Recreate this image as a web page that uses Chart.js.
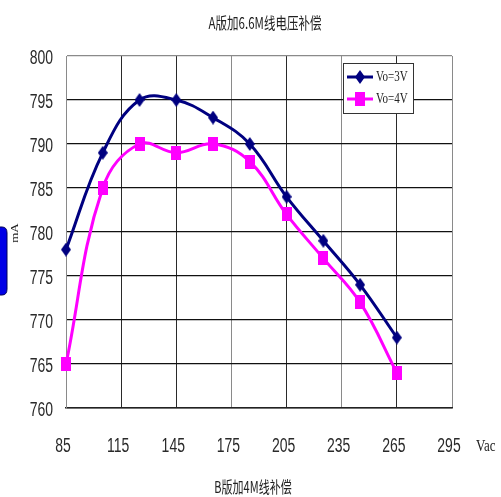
<!DOCTYPE html>
<html>
<head>
<meta charset="utf-8">
<script src="https://cdn.jsdelivr.net/npm/chart.js@4/dist/chart.umd.min.js"></script>
<style>
  html, body { margin: 0; padding: 0; background: #fff; }
  #wrap { width: 501px; height: 497px; position: relative; }
</style>
</head>
<body>
<div id="wrap"><canvas id="c" width="501" height="497"></canvas></div>
<script>
// Input voltage (Vac) sample points
const vac = [85, 105, 125, 145, 165, 185, 205, 225, 245, 265];
// Output current (mA) for each output voltage setting
const vo3V = [778, 789, 795, 795, 793, 790, 784, 779, 774, 768];
const vo4V = [765, 785, 790, 789, 790, 788, 782, 777, 772, 764];
const seriesNames = ['Vo=3V', 'Vo=4V'];
const titleText = 'A版加6.6M线电压补偿';
const bottomText = 'B版加4M线补偿';
const yUnit = 'mA';
const xUnit = 'Vac';

const NAVY = '#000080';
const MAGENTA = '#FF00FF';
const TICK_FONT = '14px "Liberation Sans", Arial, sans-serif';
const CJK_FONT = '"Noto Sans CJK SC", sans-serif';

// Tall markers: diamond and rectangle sprites
function diamondSprite(w, h, color) {
  const cv = document.createElement('canvas');
  cv.width = w; cv.height = h;
  const g = cv.getContext('2d');
  g.fillStyle = color;
  g.beginPath();
  g.moveTo(w / 2, 0); g.lineTo(w, h / 2); g.lineTo(w / 2, h); g.lineTo(0, h / 2);
  g.closePath(); g.fill();
  return cv;
}
function rectSprite(w, h, color) {
  const cv = document.createElement('canvas');
  cv.width = w; cv.height = h;
  const g = cv.getContext('2d');
  g.fillStyle = color;
  g.fillRect(0, 0, w, h);
  return cv;
}
const diamond = diamondSprite(10, 14, NAVY);
const square = rectSprite(10, 14, MAGENTA);

function stretchedText(ctx, text, x, y, font, sy, align) {
  ctx.save();
  ctx.translate(x, y);
  ctx.scale(1, sy);
  ctx.font = font;
  ctx.textAlign = align || 'center';
  ctx.textBaseline = 'middle';
  ctx.fillText(text, 0, 0);
  ctx.restore();
}

// Tick labels drawn from the scales' own ticks, in a tall narrow style
const tallTicks = {
  id: 'tallTicks',
  afterDraw(chart) {
    const ctx = chart.ctx;
    const xs = chart.scales.x, ys = chart.scales.y;
    ctx.save();
    ctx.fillStyle = '#2a2a2a';
    ys.ticks.forEach(t => {
      stretchedText(ctx, String(t.value), 53, ys.getPixelForValue(t.value) + 3, TICK_FONT, 1.4, 'right');
    });
    xs.ticks.forEach(t => {
      stretchedText(ctx, String(t.value), xs.getPixelForValue(t.value) - 3, 447, TICK_FONT, 1.4, 'center');
    });
    ctx.restore();
  }
};

const decorations = {
  id: 'decorations',
  beforeDraw(chart) {
    const ctx = chart.ctx;
    ctx.save();
    ctx.fillStyle = '#fff';
    ctx.fillRect(0, 0, chart.width, chart.height);
    // blue tab on the left edge
    ctx.fillStyle = '#0000E6';
    ctx.strokeStyle = '#00005a';
    ctx.lineWidth = 1;
    ctx.beginPath();
    ctx.moveTo(-2, 227);
    ctx.lineTo(2, 227);
    ctx.quadraticCurveTo(7, 227, 7, 233);
    ctx.lineTo(7, 289);
    ctx.quadraticCurveTo(7, 295, 2, 295);
    ctx.lineTo(-2, 295);
    ctx.closePath();
    ctx.fill();
    ctx.stroke();
    ctx.restore();
  },
  afterDraw(chart) {
    const ctx = chart.ctx;
    ctx.save();
    ctx.fillStyle = '#222';
    stretchedText(ctx, titleText, 265, 23, '11.5px ' + CJK_FONT, 1.4);
    stretchedText(ctx, bottomText, 253, 487, '11px ' + CJK_FONT, 1.45);
    stretchedText(ctx, xUnit, 476, 446, '13px "Liberation Serif", serif', 1.35, 'left');
    // rotated unit label for the value axis
    ctx.save();
    ctx.translate(15, 233);
    ctx.rotate(-Math.PI / 2);
    ctx.scale(1.3, 1);
    ctx.font = '10px "Liberation Serif", serif';
    ctx.textAlign = 'center';
    ctx.textBaseline = 'middle';
    ctx.fillText(yUnit, 0, 0);
    ctx.restore();

    // legend box
    const lx = 343, ly = 63, lw = 70, lh = 50;
    ctx.fillStyle = '#fff';
    ctx.fillRect(lx, ly, lw, lh);
    ctx.strokeStyle = '#333';
    ctx.lineWidth = 1;
    ctx.strokeRect(lx + 0.5, ly + 0.5, lw, lh);
    const items = [
      { name: seriesNames[0], color: NAVY, sprite: diamond, y: 77 },
      { name: seriesNames[1], color: MAGENTA, sprite: square, y: 99 }
    ];
    items.forEach(it => {
      ctx.strokeStyle = it.color;
      ctx.lineWidth = 3;
      ctx.beginPath();
      ctx.moveTo(347, it.y);
      ctx.lineTo(373, it.y);
      ctx.stroke();
      ctx.drawImage(it.sprite, 360 - it.sprite.width / 2, it.y - it.sprite.height / 2);
      ctx.fillStyle = '#222';
      stretchedText(ctx, it.name, 376, it.y, '11px "Liberation Serif", serif', 1.35, 'left');
    });
    ctx.restore();
  }
};

const grayX = new Set([85, 175, 235, 295]);

new Chart(document.getElementById('c'), {
  type: 'line',
  data: {
    labels: vac,
    datasets: [
      {
        label: seriesNames[0],
        data: vac.map((x, i) => ({ x, y: vo3V[i] })),
        borderColor: NAVY,
        backgroundColor: NAVY,
        borderWidth: 3,
        tension: 0.4,
        pointStyle: diamond,
        clip: false
      },
      {
        label: seriesNames[1],
        data: vac.map((x, i) => ({ x, y: vo4V[i] })),
        borderColor: MAGENTA,
        backgroundColor: MAGENTA,
        borderWidth: 3,
        tension: 0.4,
        pointStyle: square,
        clip: false
      }
    ]
  },
  options: {
    responsive: false,
    animation: false,
    events: [],
    layout: { padding: { left: 0, right: 49, top: 56, bottom: 0 } },
    plugins: {
      legend: { display: false },
      title: { display: false },
      tooltip: { enabled: false }
    },
    scales: {
      x: {
        type: 'linear',
        min: 85,
        max: 295,
        ticks: { stepSize: 30, display: false },
        grid: {
          drawTicks: false,
          lineWidth: 1,
          color: ctx => (ctx.tick && grayX.has(ctx.tick.value)) ? '#8a8a8a' : '#2a2a2a'
        },
        border: { display: true, color: '#222', width: 1.5 },
        afterFit: s => { s.height = 89; }
      },
      y: {
        min: 760,
        max: 800,
        ticks: { stepSize: 5, display: false },
        grid: {
          drawTicks: false,
          lineWidth: 1.3,
          color: ctx => (ctx.tick && ctx.tick.value === 800) ? '#8a8a8a' : '#111'
        },
        border: { display: true, color: '#8a8a8a', width: 1 },
        afterFit: s => { s.width = 66; }
      }
    }
  },
  plugins: [decorations, tallTicks]
});
</script>
</body>
</html>
